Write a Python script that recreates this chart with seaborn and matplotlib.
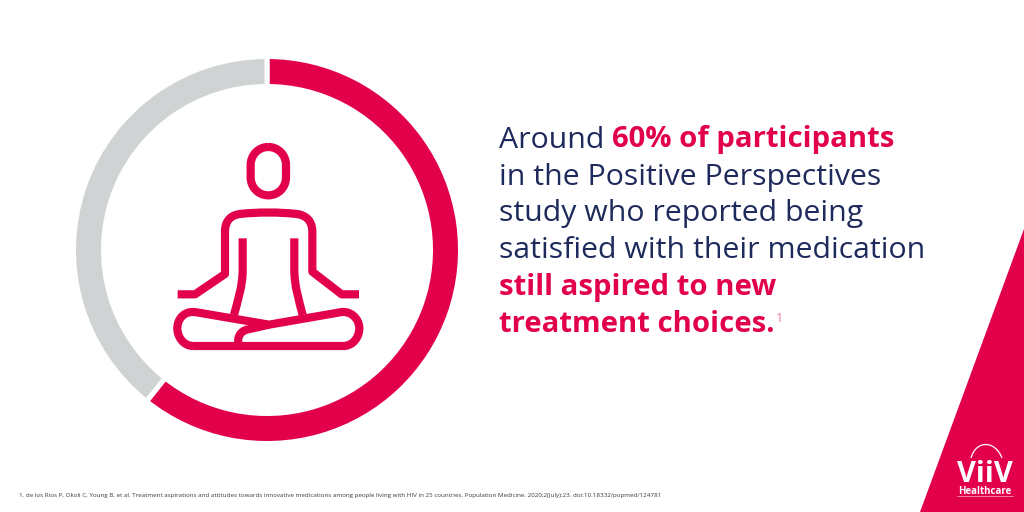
import matplotlib
matplotlib.use("Agg")
import matplotlib.pyplot as plt
import seaborn as sns
from matplotlib.path import Path
from matplotlib.patches import PathPatch, Polygon

share_labels = ["Aspired to new treatment choices", "Other participants"]
share_values = [60.7, 39.3]
share_colors = ["#E2004A", "#D0D3D4"]
NAVY = "#1F2A5C"
RED = "#E2004A"

message_lines = [
    [("Around", False), ("60% of participants", True)],
    [("in the Positive Perspectives", False)],
    [("study who reported being", False)],
    [("satisfied with their medication", False)],
    [("still aspired to new", True)],
    [("treatment choices.", True)],
]
footnote = ("1. de los Rios P, Okoli C, Young B, et al. Treatment aspirations and attitudes towards "
            "innovative medications among people living with HIV in 25 countries. Population Medicine. "
            "2020;2(July):23. doi:10.18332/popmed/124781")

sns.set_theme(style="white")
plt.rcParams["font.family"] = ["Open Sans", "DejaVu Sans"]
palette = sns.color_palette(share_colors)

fig = plt.figure(figsize=(10.24, 5.12), dpi=100, facecolor="white")

# full-figure pixel canvas
bg = fig.add_axes([0, 0, 1, 1])
bg.set_xlim(0, 1024)
bg.set_ylim(512, 0)
bg.axis("off")

# donut
ax = fig.add_axes([73.5 / 1024, (512 - 443.5) / 512, 387 / 1024, 387 / 512])
ax.pie(share_values, colors=palette, startangle=90, counterclock=False, radius=1,
       wedgeprops=dict(width=0.155, edgecolor="white", linewidth=3.6))
ax.set_xlim(-1, 1)
ax.set_ylim(-1, 1)
ax.set_aspect("equal")

# meditating figure icon (geometry in 3x zoom space)
def z(x, y):
    return (150 + x / 3, 120 + y / 3)

def stroke(segments):
    verts, codes = [], []
    for i, seg in enumerate(segments):
        if i == 0:
            verts.append(z(*seg)); codes.append(Path.MOVETO)
        elif len(seg) == 2:
            verts.append(z(*seg)); codes.append(Path.LINETO)
        else:
            verts += [z(seg[0], seg[1]), z(seg[2], seg[3]), z(seg[4], seg[5])]
            codes += [Path.CURVE4] * 3
    bg.add_patch(PathPatch(Path(verts, codes), fill=False, edgecolor=RED, lw=5.9,
                           capstyle="butt", joinstyle="round"))

stroke([(355, 81), (385, 81, 408, 105, 408, 135), (408, 172), (408, 202, 385, 226, 355, 226),
        (325, 226, 302, 202, 302, 172), (302, 135), (302, 105, 325, 81, 355, 81)])
stroke([(83, 523), (135, 523), (225, 462), (225, 335), (225, 300, 245, 285, 270, 282),
        (320, 276, 390, 276, 440, 282), (465, 285, 487, 300, 487, 335), (487, 455),
        (575, 523), (627, 523)])
stroke([(278, 355), (278, 450), (278, 500, 262, 545, 252, 585)])
stroke([(433, 355), (433, 450), (433, 500, 448, 545, 458, 585)])
stroke([(130, 678), (100, 678, 82, 650, 82, 625), (82, 595, 105, 570, 140, 577), (357, 614),
        (570, 577), (600, 570, 628, 595, 628, 625), (628, 650, 610, 678, 580, 678), (130, 678)])
stroke([(357, 614), (295, 628), (270, 632, 258, 655, 268, 678)])

# message text
SIZE_NORMAL = 21.8
SIZE_BOLD = 21.1
renderer = fig.canvas.get_renderer()
baseline = 147.5
for line in message_lines:
    x = 499
    for chunk, bold in line:
        t = bg.text(x, baseline, chunk, fontsize=SIZE_BOLD if bold else SIZE_NORMAL,
                    fontweight="bold" if bold else "normal",
                    color=RED if bold else NAVY, ha="left", va="baseline")
        x += t.get_window_extent(renderer).width + 8
    baseline += 37
bg.text(x - 7, 322, "1", fontsize=9, color="#E8809F", ha="left", va="baseline")

# footnote
bg.text(19, 496.5, footnote, fontsize=4.48, color="#3A3A4A", ha="left", va="baseline")

# corner triangle and logo
bg.add_patch(Polygon([(1024, 229), (1024, 512), (920, 512)], closed=True, facecolor=RED, edgecolor="none"))
bg.text(985, 482, "ViiV", fontsize=21, fontweight="bold", color="white", ha="center", va="baseline")
bg.text(985, 493.5, "Healthcare", fontsize=7, fontweight="bold", color="white", ha="center", va="baseline")
stroke_arc = Path([(971, 458), (976, 440), (995, 440), (1002, 458)], [Path.MOVETO, Path.CURVE4, Path.CURVE4, Path.CURVE4])
bg.add_patch(PathPatch(stroke_arc, fill=False, edgecolor="white", lw=0.9))
bg.plot([957, 1013], [495.5, 495.5], color="white", lw=0.5, alpha=0.7)

fig.savefig("out.png", dpi=100, facecolor="white")
